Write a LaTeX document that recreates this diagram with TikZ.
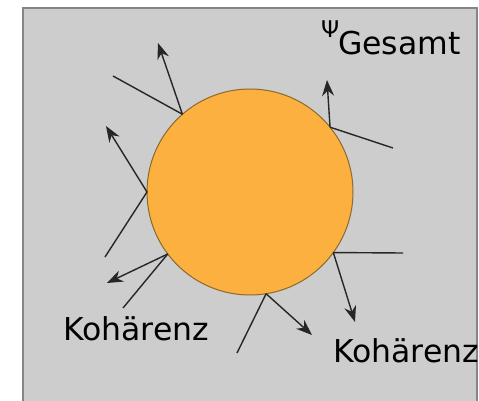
\documentclass[tikz,border=0pt]{standalone}
\usepackage{fontspec}
\setmainfont{DejaVu Sans}
\usetikzlibrary{arrows.meta}
\definecolor{sysorange}{HTML}{FBB040}
\definecolor{sysedge}{HTML}{8A6A2E}
\definecolor{envgray}{HTML}{CDCDCD}
\definecolor{framegray}{HTML}{858585}

\begin{document}
\begin{tikzpicture}[
  x=1pt, y=-1pt,
  ray/.style={line width=1.4pt, draw=black!85},
  emit/.style={ray, -{Stealth[length=16pt, width=12pt]}},
  lbl/.style={font=\fontsize{31.5}{34}\selectfont, inner sep=0pt, anchor=base west}
]
\useasboundingbox (0,0) rectangle (479,401);
\clip (0,0) rectangle (479,401);
% Environment
\draw[draw=framegray, fill=envgray, line width=2pt] (23,8) rectangle (477,420);
% System
\node[circle, draw=sysedge, fill=sysorange, line width=1pt, minimum size=206pt, inner sep=0pt, outer sep=0pt] (sys) at (250,192) {};
% Free ends of the rays
\coordinate (ray1) at (113,76);
\coordinate (tip1) at (158,43);
\coordinate (ray2) at (393,148);
\coordinate (tip2) at (327,80);
\coordinate (ray3) at (105,257);
\coordinate (tip3) at (106,126);
\coordinate (ray4) at (123,308);
\coordinate (tip4) at (107,283);
\coordinate (ray5) at (237,353);
\coordinate (tip5) at (312,335);
\coordinate (ray6) at (403,253);
\coordinate (tip6) at (355,322);
% Rays in, arrows out
\draw[ray] (ray1) -- (sys.131);
\draw[emit] (sys.131) -- (tip1);
\draw[ray] (ray2) -- (sys.39);
\draw[emit] (sys.39) -- (tip2);
\draw[ray] (ray3) -- (sys.180);
\draw[emit] (sys.180) -- (tip3);
\draw[ray] (ray4) -- (sys.217);
\draw[emit] (sys.217) -- (tip4);
\draw[ray] (ray5) -- (sys.279);
\draw[emit] (sys.279) -- (tip5);
\draw[ray] (ray6) -- (sys.324);
\draw[emit] (sys.324) -- (tip6);
% Labels
\node[lbl] (psi) at (321,38) {\fontsize{23}{25}\selectfont Ψ};
\node[lbl] (gesamt) at (338,55) {Gesamt};
\node[lbl] (koh1) at (63,340) {Kohärenz};
\node[lbl] (koh2) at (333,362) {Kohärenz};
\end{tikzpicture}
\end{document}
